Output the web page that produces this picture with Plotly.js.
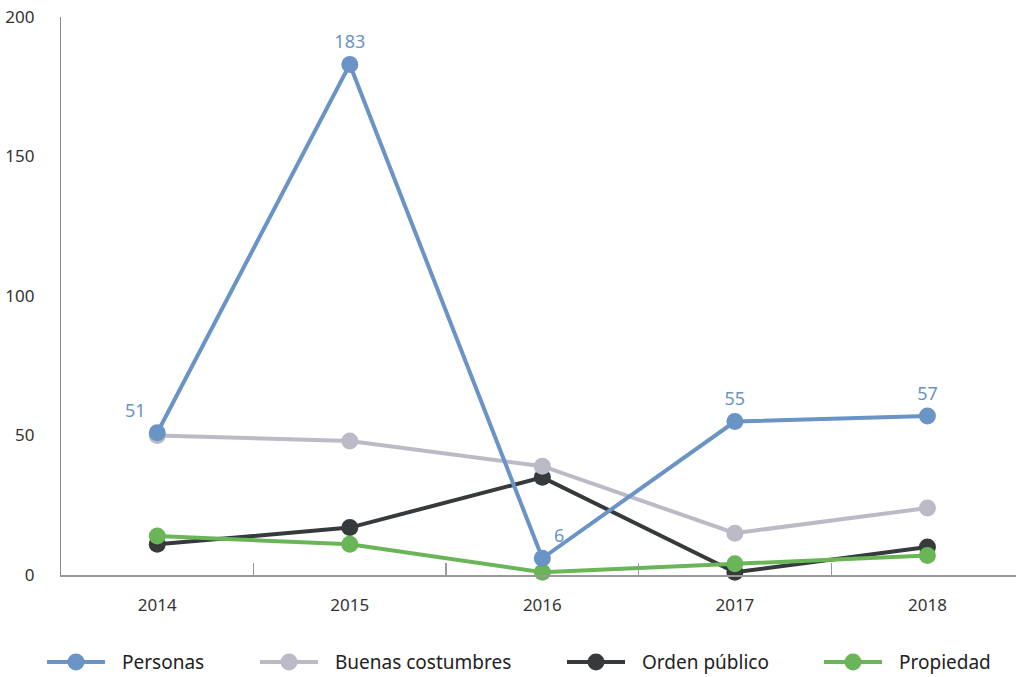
<!DOCTYPE html>
<html>
<head>
<meta charset="utf-8">
<script src="https://cdn.plot.ly/plotly-3.0.1.min.js"></script>
<style>html,body{margin:0;padding:0;background:#fff}#chart{width:1016px;height:677px}</style>
</head>
<body>
<div id="chart"></div>
<script>
var years = ["2014", "2015", "2016", "2017", "2018"];
var personas = [51, 183, 6, 55, 57];
var buenasCostumbres = [50, 48, 39, 15, 24];
var ordenPublico = [11, 17, 35, 1, 10];
var propiedad = [14, 11, 1, 4, 7];
var personasLabels = ["51", "183", "6", "55", "57"];
var personasLabelPos = ["top left", "top center", "top right", "top center", "top center"];
var legendNames = ["Personas", "Buenas costumbres", "Orden público", "Propiedad"];
var legendColors = ["#6a93c6", "#bbbac6", "#363a3d", "#6ab557"];
var legendStartPx = [47, 260, 567, 824];

var FONT = "'Noto Sans', sans-serif";
var C_PER = legendColors[0], C_BUE = legendColors[1], C_ORD = legendColors[2], C_PRO = legendColors[3];

function tr(name, y, color) {
  return {
    type: "scatter", mode: "lines+markers", x: years, y: y, name: name,
    line: {color: color, width: 4}, marker: {color: color, size: 17},
    showlegend: false, cliponaxis: false, hoverinfo: "x+y+name"
  };
}
var tOrd = tr("Orden público", ordenPublico, C_ORD);
var tBue = tr("Buenas costumbres", buenasCostumbres, C_BUE);
var tPro = tr("Propiedad", propiedad, C_PRO);
var tPer = tr("Personas", personas, C_PER);
tPer.mode = "lines+markers+text";
tPer.text = personasLabels;
tPer.textposition = personasLabelPos;
tPer.textfont = {color: C_PER, size: 18, family: FONT};

// custom legend (plot area spans x 61..1016 px, y 17..575 px)
var L = 61, W = 955, T = 17, H = 558;
function px2x(px) { return (px - L) / W; }
function px2y(py) { return (T + H - py) / H; }
var shapes = [], annotations = [];
var legY = px2y(662);
for (var i = 0; i < legendNames.length; i++) {
  var s = legendStartPx[i];
  shapes.push({type: "line", xref: "paper", yref: "paper", x0: px2x(s), x1: px2x(s + 58), y0: legY, y1: legY,
    line: {color: legendColors[i], width: 4}});
  shapes.push({type: "circle", xref: "paper", yref: "paper", xsizemode: "pixel", ysizemode: "pixel",
    xanchor: px2x(s + 29), yanchor: legY, x0: -8.5, x1: 8.5, y0: -8.5, y1: 8.5,
    fillcolor: legendColors[i], line: {width: 0}});
  annotations.push({xref: "paper", yref: "paper", x: px2x(s + 73), y: legY, xanchor: "left", yanchor: "middle",
    text: legendNames[i], showarrow: false, font: {size: 19, color: "#222", family: FONT}});
}

var layout = {
  width: 1016, height: 677,
  margin: {l: L, r: 0, t: T, b: 677 - T - H},
  paper_bgcolor: "#fff", plot_bgcolor: "#fff",
  font: {family: FONT, color: "#333", size: 17},
  showlegend: false,
  shapes: shapes, annotations: annotations,
  xaxis: {
    type: "category", range: [-0.5, 4.46], showgrid: false, zeroline: false,
    showline: true, linecolor: "#999", linewidth: 1.5,
    ticks: "inside", tickson: "boundaries", ticklen: 12, tickcolor: "#999", tickwidth: 1.2,
    tickfont: {size: 17, color: "#333"}, ticklabelstandoff: 14, fixedrange: true
  },
  yaxis: {
    range: [0, 200], tickvals: [0, 50, 100, 150, 200], showgrid: false, zeroline: false,
    showline: true, linecolor: "#888", linewidth: 1.2, ticks: "",
    tickfont: {size: 17, color: "#333"}, ticklabelstandoff: 22, fixedrange: true
  }
};

Plotly.newPlot("chart", [tOrd, tBue, tPro, tPer], layout, {displayModeBar: false, staticPlot: true});
</script>
</body>
</html>
